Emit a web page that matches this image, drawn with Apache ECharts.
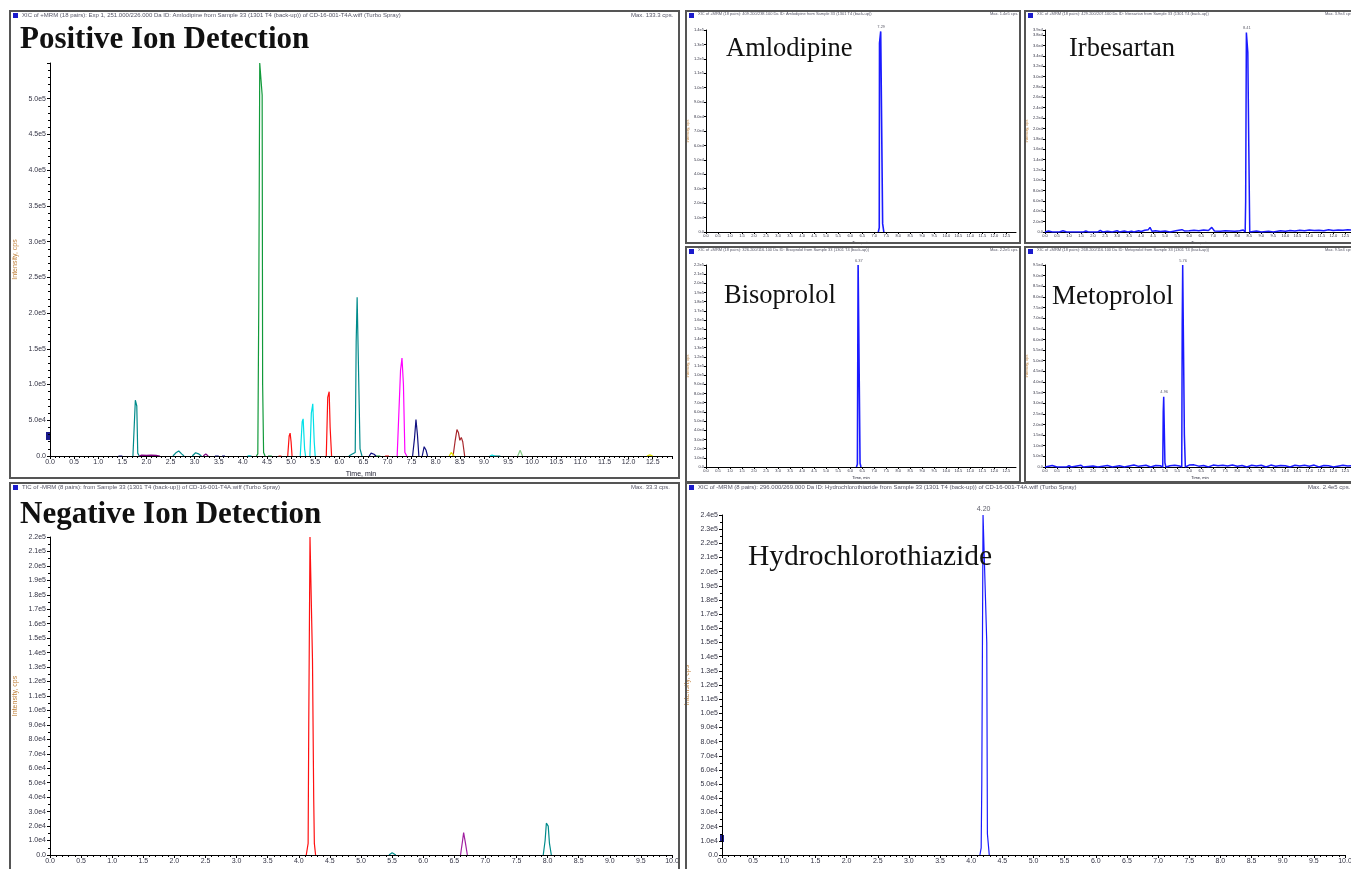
<!DOCTYPE html>
<html><head><meta charset="utf-8">
<script src="https://cdn.jsdelivr.net/npm/echarts@6/dist/echarts.min.js"></script>
<style>html,body{margin:0;padding:0;background:#fff}#c{width:1351px;height:869px}</style>
</head><body><div id="c"></div>
<script>
// ---------- DATA (time in min, intensity in cps) ----------
// Positive ion TIC traces
var posTeal = [[1.72,0],[1.75,2000],[1.77,78000],[1.79,77000],[1.80,70000],[1.82,4000],[1.85,0],[1.86,null],
  [2.55,0],[2.62,5000],[2.67,7000],[2.73,3000],[2.78,0],[2.79,null],
  [2.95,0],[3.02,4500],[3.08,3000],[3.14,0],[3.15,null],
  [4.10,0],[4.14,2000],[4.18,0],[4.19,null],
  [6.20,0],[6.26,2500],[6.33,5000],[6.35,160000],[6.37,222000],[6.41,222000],[6.43,10000],[6.47,0],[6.48,null],
  [9.18,0],[9.22,1500],[9.26,0],[9.30,1500],[9.34,0]];
var posGreen = [[4.28,0],[4.31,3000],[4.33,215000],[4.35,550000],[4.38,550000],[4.40,505000],[4.41,100000],[4.43,5000],[4.46,0],[4.47,null],
  [4.52,0],[4.56,2000],[4.60,0],[4.61,null],[6.76,0],[6.80,1500],[6.85,0]];
var posRed = [[4.74,0],[4.77,1500],[4.80,0],[4.81,null],[4.93,0],[4.96,28000],[4.98,32000],[5.00,20000],[5.02,0],[5.03,null],
  [5.73,0],[5.76,82000],[5.79,90000],[5.81,40000],[5.84,0],[5.85,null],[6.95,0],[6.99,1500],[7.03,0]];
var posCyan = [[4.10,0],[4.13,1500],[4.16,0],[4.17,null],[5.19,0],[5.23,48000],[5.25,52000],[5.28,10000],[5.30,0],[5.31,null],
  [5.39,0],[5.42,60000],[5.45,73000],[5.48,20000],[5.50,0],[5.51,null],[9.12,0],[9.17,1500],[9.22,0]];
var posMagenta = [[7.20,0],[7.24,2000],[7.27,120000],[7.30,137000],[7.33,100000],[7.36,5000],[7.40,0]];
var posNavy = [[1.42,0],[1.46,1500],[1.50,0],[1.51,null],[3.42,0],[3.46,1500],[3.50,0],[3.51,null],[3.57,0],[3.60,1200],[3.63,0],[3.64,null],
  [6.62,0],[6.66,4000],[6.72,2500],[6.76,0],[6.77,null],[7.52,0],[7.56,25000],[7.59,51000],[7.62,30000],[7.65,0],[7.66,null],
  [7.72,0],[7.76,13000],[7.80,8000],[7.83,0]];
var posPurple = [[1.85,0],[1.90,1200],[2.00,800],[2.10,1200],[2.20,900],[2.28,0],[2.29,null],[3.18,0],[3.23,3000],[3.28,0]];
var posBrown = [[8.36,0],[8.40,20000],[8.44,37000],[8.47,33000],[8.50,22000],[8.53,26000],[8.56,20000],[8.60,0]];
var posYellow = [[8.28,0],[8.32,5000],[8.35,6500],[8.38,0],[8.39,null],[12.38,0],[12.44,1500],[12.50,0]];
var posPaleGreen = [[9.70,0],[9.75,8000],[9.80,0]];

// Negative ion TIC traces
var negRed = [[4.12,0],[4.15,8000],[4.16,90000],[4.18,220000],[4.21,220000],[4.22,135000],[4.24,38000],[4.25,8000],[4.27,0]];
var negTeal = [[5.45,0],[5.50,1500],[5.56,0],[5.57,null],[7.93,0],[7.96,10000],[7.98,22000],[8.01,20000],[8.03,8000],[8.06,0]];
var negPurple = [[6.60,0],[6.63,9000],[6.65,15500],[6.68,8000],[6.71,0]];

// Single-analyte XICs
var hydBlue = [[4.14,0],[4.16,5000],[4.17,50000],[4.19,240000],[4.22,240000],[4.23,180000],[4.25,150000],[4.26,15000],[4.29,0]];
var amlBlue = [[7.17,0],[7.21,3000],[7.22,131000],[7.27,139000],[7.34,139000],[7.35,5800],[7.40,0]];
var bisBlue = [[6.26,0],[6.30,3000],[6.33,220000],[6.40,220000],[6.41,4000],[6.45,0]];
var irbBlue = [[0,0],[0.15,200],[0.3,0],[0.6,0],[0.75,250],[0.9,0],[1.6,0],[1.7,200],[1.8,0],[2.2,0],[2.3,300],[2.4,0],[2.6,150],[2.8,0],
  [3.0,250],[3.1,0],[3.3,200],[3.45,0],[3.6,150],[3.7,0],[3.9,250],[4.0,100],[4.15,350],[4.3,450],[4.37,900],[4.45,150],[4.6,250],
  [4.8,100],[5.0,200],[5.2,0],[5.5,300],[5.7,450],[5.8,200],[6.0,250],[6.2,350],[6.4,250],[6.6,400],[6.8,300],[6.94,900],[7.05,200],
  [7.3,150],[7.5,250],[7.7,200],[7.9,150],[8.1,250],[8.25,400],[8.33,0],[8.35,6000],[8.38,38500],[8.42,38500],[8.44,34700],
  [8.46,25700],[8.48,16600],[8.52,0],[8.8,200],[9.0,0],[9.3,150],[9.5,0],[9.8,250],[10.0,150],[10.2,300],[10.4,200],[10.6,350],
  [10.8,250],[11.0,400],[11.2,300],[11.4,350],[11.6,250],[11.8,450],[12.0,300],[12.2,400],[12.4,350],[12.6,450],[12.9,300]];
var metBlue = [[0,0],[0.3,700],[0.5,0],[0.9,0],[1.0,600],[1.1,0],[1.5,800],[1.6,0],[2.0,500],[2.2,0],[2.6,700],[2.8,0],[3.1,600],
  [3.3,0],[3.7,900],[3.9,300],[4.2,800],[4.4,0],[4.6,700],[4.8,600],[4.90,0],[4.92,26000],[4.94,33000],[4.98,33000],[4.99,2000],
  [5.03,0],[5.2,600],[5.4,800],[5.6,500],[5.69,0],[5.71,67000],[5.73,95000],[5.78,95000],[5.80,15000],[5.84,0],[6.0,900],[6.2,1000],
  [6.4,400],[6.6,700],[6.8,0],[7.0,900],[7.2,600],[7.4,800],[7.6,500],[7.8,900],[8.0,400],[8.2,700],[8.4,0],[8.6,800],
  [8.8,500],[9.0,800],[9.2,0],[9.4,900],[9.6,400],[9.8,700],[10.0,600],[10.2,0],[10.4,800],[10.6,500],[10.8,800],[11.0,400],
  [11.2,900],[11.4,0],[11.6,700],[11.8,600],[12.0,0],[12.4,800],[12.6,500],[12.9,700]];

// Peak retention-time labels
var hydPeaks = [[4.20,240000,'4.20']];
var amlPeaks = [[7.29,139000,'7.29']];
var irbPeaks = [[8.40,38500,'8.41']];
var bisPeaks = [[6.36,220000,'6.37']];
var metPeaks = [[4.96,33000,'4.96'],[5.75,95000,'5.76']];

// Axis ranges [xMax, xInterval, yMax, yInterval]
var posAxis = [12.9, 0.5, 550000, 50000];
var negAxis = [10, 0.5, 220000, 10000];
var hydAxis = [10, 0.5, 240000, 10000];
var amlAxis = [12.9, 0.5, 140000, 10000];
var irbAxis = [12.9, 0.5, 39000, 2000];
var bisAxis = [12.9, 0.5, 220000, 10000];
var metAxis = [12.9, 0.5, 95000, 5000];

// Panel titles
var titles = ['Positive Ion Detection','Negative Ion Detection','Amlodipine','Irbesartan','Bisoprolol','Metoprolol','Hydrochlorothiazide'];

// ---------- CHART ----------
function yFmt(v){ v=Math.round(v); if(v===0) return '0.0'; var e=Math.floor(Math.log10(v)+1e-9); var m=v/Math.pow(10,e); return m.toFixed(1)+'e'+e; }
function xFmt(v){ return (Math.round(v*10)/10).toFixed(1); }

var grids = [
  {left:50, top:63, width:622, height:393},    // 0 positive
  {left:50, top:537, width:622, height:318},   // 1 negative
  {left:722, top:515, width:623, height:340},  // 2 hydro
  {left:706, top:30, width:310, height:202},   // 3 amlodipine
  {left:1045, top:30, width:310, height:202},  // 4 irbesartan
  {left:706, top:265, width:310, height:202},  // 5 bisoprolol
  {left:1045, top:265, width:310, height:202}  // 6 metoprolol
].map(function(g){ g.outerBoundsMode = 'none'; g.containLabel = false; return g; });
var axes = [posAxis, negAxis, hydAxis, amlAxis, irbAxis, bisAxis, metAxis];
var big = [true, true, true, false, false, false, false];

var xAxis = [], yAxis = [];
axes.forEach(function(a, i){
  var fs = big[i] ? 7 : 4;
  xAxis.push({type:'value', gridIndex:i, min:0, max:a[0], interval:a[1],
    name:'Time, min', nameLocation:'middle', nameGap: big[i]?15:9,
    nameTextStyle:{fontSize: big[i]?7:4, color:'#223', fontFamily:'Liberation Sans'},
    axisLine:{show:true, onZero:false, lineStyle:{color:'#000', width:1}},
    axisTick:{show:true, length: big[i]?3:2, lineStyle:{color:'#000'}},
    minorTick:{show:big[i], splitNumber:5, length:2, lineStyle:{color:'#000'}},
    splitLine:{show:false},
    axisLabel:{fontSize:fs, color:'#334', margin: big[i]?3:2, formatter:xFmt, showMaxLabel: a[0]%a[1]===0, fontFamily:'Liberation Sans'}
  });
  yAxis.push({type:'value', gridIndex:i, min:0, max:a[2], interval:a[3],
    name:'Intensity, cps', nameLocation:'middle', nameRotate:90, nameGap: big[i]?31:15,
    nameTextStyle:{fontSize: big[i]?7:4, color:'#c0803a', fontFamily:'Liberation Sans'},
    axisLine:{show:true, lineStyle:{color:'#000', width:1}},
    axisTick:{show:true, length: big[i]?3:2, lineStyle:{color:'#000'}},
    minorTick:{show:big[i], splitNumber: i===0?5:2, length:2, lineStyle:{color:'#000'}},
    splitLine:{show:false},
    axisLabel:{fontSize: big[i]?7:4, color:'#334', margin: big[i]?4:2, formatter:yFmt, showMaxLabel: i!==0, fontFamily:'Liberation Sans'}
  });
});

function line(data, color, gi, w){
  return {type:'line', data:data, xAxisIndex:gi, yAxisIndex:gi, showSymbol:false, symbol:'none',
    connectNulls:false, lineStyle:{color:color, width:w||1.2}, itemStyle:{color:color}, animation:false, silent:true};
}
function peakLabels(pk, gi, fs){
  return {type:'scatter', xAxisIndex:gi, yAxisIndex:gi, symbolSize:1, itemStyle:{color:'rgba(0,0,0,0)'},
    data: pk.map(function(p){ return {value:[p[0],p[1]], name:p[2]}; }), animation:false, silent:true,
    label:{show:true, position:'top', distance:2, fontSize:fs, color:'#334', fontFamily:'Liberation Sans', formatter:function(p){return p.name;}}};
}

var series = [
  line(posTeal,'#008b8b',0), line(posGreen,'#119a3a',0), line(posRed,'#ff1010',0), line(posCyan,'#00e0e8',0),
  line(posMagenta,'#ff00ff',0), line(posNavy,'#101080',0), line(posPurple,'#800080',0), line(posBrown,'#a8282d',0),
  line(posYellow,'#e0e000',0), line(posPaleGreen,'#88cc88',0),
  line(negRed,'#ff1010',1), line(negTeal,'#008b8b',1), line(negPurple,'#a020a0',1),
  line(hydBlue,'#1a1aff',2), line(amlBlue,'#1a1aff',3,1.6), line(irbBlue,'#1a1aff',4,1.5), line(bisBlue,'#1a1aff',5,1.6), line(metBlue,'#1a1aff',6,1.5),
  peakLabels(hydPeaks,2,7), peakLabels(amlPeaks,3,4), peakLabels(irbPeaks,4,4), peakLabels(bisPeaks,5,4), peakLabels(metPeaks,6,4)
];

var boxes = [[10,11,669,467],[10,483,669,390],[686,483,670,390],[686,11,334,232],[1025,11,330,232],[686,247,334,235],[1025,247,330,235]];
var headers = [
  ['XIC of +MRM (18 pairs): Exp 1, 251.000/226.000 Da ID: Amlodipine from Sample 33 (1301 T4 (back-up)) of CD-16-001-T4A.wiff (Turbo Spray)','Max. 133.3 cps.'],
  ['TIC of -MRM (8 pairs): from Sample 33 (1301 T4 (back-up)) of CD-16-001-T4A.wiff (Turbo Spray)','Max. 33.3 cps.'],
  ['XIC of -MRM (8 pairs): 296.000/269.000 Da ID: Hydrochlorothiazide from Sample 33 (1301 T4 (back-up)) of CD-16-001-T4A.wiff (Turbo Spray)','Max. 2.4e5 cps.'],
  ['XIC of +MRM (18 pairs): 409.200/238.100 Da ID: Amlodipine from Sample 33 (1301 T4 (back-up))','Max. 1.4e5 cps.'],
  ['XIC of +MRM (18 pairs): 429.200/207.100 Da ID: Irbesartan from Sample 33 (1301 T4 (back-up))','Max. 3.9e4 cps.'],
  ['XIC of +MRM (18 pairs): 326.200/116.100 Da ID: Bisoprolol from Sample 33 (1301 T4 (back-up))','Max. 2.2e5 cps.'],
  ['XIC of +MRM (18 pairs): 268.200/116.100 Da ID: Metoprolol from Sample 33 (1301 T4 (back-up))','Max. 9.5e4 cps.']
];
var graphic = [];
boxes.forEach(function(b, i){
  graphic.push({type:'rect', shape:{x:b[0],y:b[1],width:b[2],height:b[3]}, style:{fill:'none', stroke:'#555', lineWidth:2}, silent:true, z:100});
  graphic.push({type:'rect', shape:{x:b[0]+3,y:b[1]+2,width:5,height:5}, style:{fill:'#1a1acc'}, silent:true, z:100});
  var big2 = i < 3;
  graphic.push({type:'text', x:b[0]+12, y:b[1]+1, style:{text:headers[i][0], fontSize: big2?6:4, fill:'#556', fontFamily:'Liberation Sans'}, silent:true, z:100});
  graphic.push({type:'text', x:b[0]+b[2]-(big2?48:30), y:b[1]+1, style:{text:headers[i][1], fontSize: big2?6:4, fill:'#556', fontFamily:'Liberation Sans'}, silent:true, z:100});
});
var tpos = [[20,24,31,'bold'],[20,499,31,'bold'],[726,36,26.5,'normal'],[1069,36,26.5,'normal'],[724,283,26.5,'normal'],[1052,283,27,'normal'],[748,542,29.5,'normal']];
titles.forEach(function(t, i){
  var p = tpos[i];
  graphic.push({type:'text', x:p[0], y:p[1], style:{text:t, fontSize:p[2], fontWeight:p[3], fill:'#111', fontFamily:'Liberation Serif', verticalAlign:'top'}, silent:true, z:100});
});
// small threshold markers near axes
graphic.push({type:'rect', shape:{x:46,y:432,width:4,height:8}, style:{fill:'#1a1a8c'}, silent:true});
graphic.push({type:'rect', shape:{x:720,y:835,width:4,height:7}, style:{fill:'#1a1a8c'}, silent:true});

var chart = echarts.init(document.getElementById('c'), null, {renderer:'canvas'});
chart.setOption({animation:false, backgroundColor:'#fff', grid:grids, xAxis:xAxis, yAxis:yAxis, series:series, graphic:graphic});
</script></body></html>
